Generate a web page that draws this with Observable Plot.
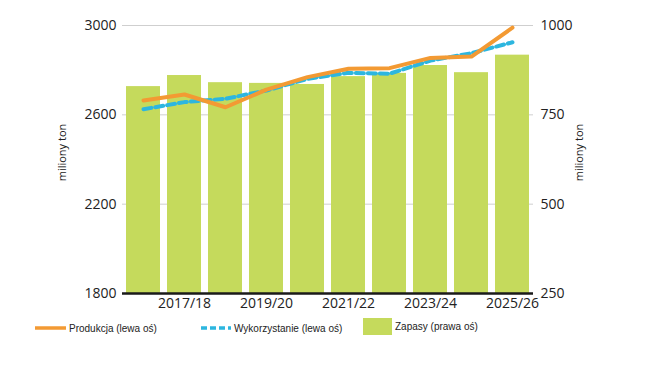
<!DOCTYPE html>
<html>
<head>
<meta charset="utf-8">
<script src="https://cdn.jsdelivr.net/npm/d3@7"></script>
<script src="https://cdn.jsdelivr.net/npm/@observablehq/plot@0.6"></script>
<style>
  html, body { margin: 0; padding: 0; background: #fff; }
  #chart svg { display: block; }
  .legend { position: relative; height: 51px; width: 650px; font-family: "Liberation Sans", Arial, sans-serif; font-size: 10px; color: #222; }
  .legend .item { position: absolute; top: 4px; display: flex; align-items: center; height: 18px; white-space: nowrap; }
  .legend svg { display: block; margin-right: 3px; }
</style>
</head>
<body>
<div id="chart"></div>
<div class="legend">
  <div class="item" style="left:35px"><svg width="31" height="6"><line x1="0" y1="3" x2="31" y2="3" stroke="#f39a33" stroke-width="3.5"/></svg>Produkcja (lewa oś)</div>
  <div class="item" style="left:200px"><svg width="31" height="6"><line x1="1" y1="3" x2="31" y2="3" stroke="#2db6df" stroke-width="3.5" stroke-dasharray="6,3"/></svg>Wykorzystanie (lewa oś)</div>
  <div class="item" style="left:363px;top:0px;height:22px"><svg width="29" height="17" style="margin-right:3px"><rect width="29" height="17" fill="#c5da5c"/></svg>Zapasy (prawa oś)</div>
</div>
<script>
const seasons = ["2016/17","2017/18","2018/19","2019/20","2020/21","2021/22","2022/23","2023/24","2024/25","2025/26"];
const tickSeasons = ["2017/18","2019/20","2021/22","2023/24","2025/26"];
const production = [2664, 2691, 2634, 2713, 2769, 2806, 2809, 2855, 2861, 2990];
const utilization = [2625, 2657, 2672, 2709, 2761, 2788, 2784, 2843, 2876, 2925];
const stocks = [829, 860, 840, 838, 835, 857, 866, 888, 868, 917];
const leftTicks = [1800, 2200, 2600, 3000];
const rightTicks = [250, 500, 750, 1000];

// map right-axis values onto the left-axis domain
const rToL = v => 1800 + (v - 250) * 1200 / 750;
const lToR = v => 250 + (v - 1800) * 750 / 1200;

const rows = seasons.map((s, i) => ({season: s, prod: production[i], util: utilization[i], stock: rToL(stocks[i])}));

const font = "'Open Sans', 'Noto Sans', sans-serif";

const chart = Plot.plot({
  width: 650,
  height: 315,
  marginLeft: 122,
  marginRight: 117,
  marginTop: 25,
  marginBottom: 22,
  style: {fontFamily: font, fontSize: "14px", color: "#222", background: "#fff"},
  x: {domain: seasons, paddingInner: 0.17, paddingOuter: 0.08, axis: null, label: null},
  y: {domain: [1800, 3000], axis: null, label: null},
  marks: [
    Plot.ruleY(leftTicks.slice(1), {stroke: "#cfcfcf", strokeWidth: 1}),
    Plot.barY(rows, {x: "season", y1: 1800, y2: "stock", fill: "#c5da5c"}),
    Plot.line(rows, {x: "season", y: "util", stroke: "#2db6df", strokeWidth: 4, strokeDasharray: "8,4"}),
    Plot.line(rows, {x: "season", y: "prod", stroke: "#f39a33", strokeWidth: 4}),
    Plot.ruleY([1800], {stroke: "#1a1a1a", strokeWidth: 2.5}),
    Plot.axisX({ticks: tickSeasons, tickSize: 0, tickPadding: 5, fontSize: 14, fill: "#222", label: null}),
    Plot.axisY({anchor: "left", ticks: leftTicks, tickFormat: d => String(d), tickSize: 0, tickPadding: 6, fontSize: 14, fill: "#222", label: null}),
    Plot.axisY({anchor: "right", ticks: leftTicks, tickFormat: d => String(lToR(d)), tickSize: 0, tickPadding: 7, fontSize: 14, fill: "#222", label: null}),
    Plot.text(["miliony ton"], {frameAnchor: "left", dx: -60, dy: -7, rotate: -90, textAnchor: "middle", fontSize: 11, fill: "#222"}),
    Plot.text(["miliony ton"], {frameAnchor: "right", dx: 46, dy: -7, rotate: -90, textAnchor: "middle", fontSize: 11, fill: "#222"})
  ]
});
document.getElementById("chart").appendChild(chart);
</script>
</body>
</html>
